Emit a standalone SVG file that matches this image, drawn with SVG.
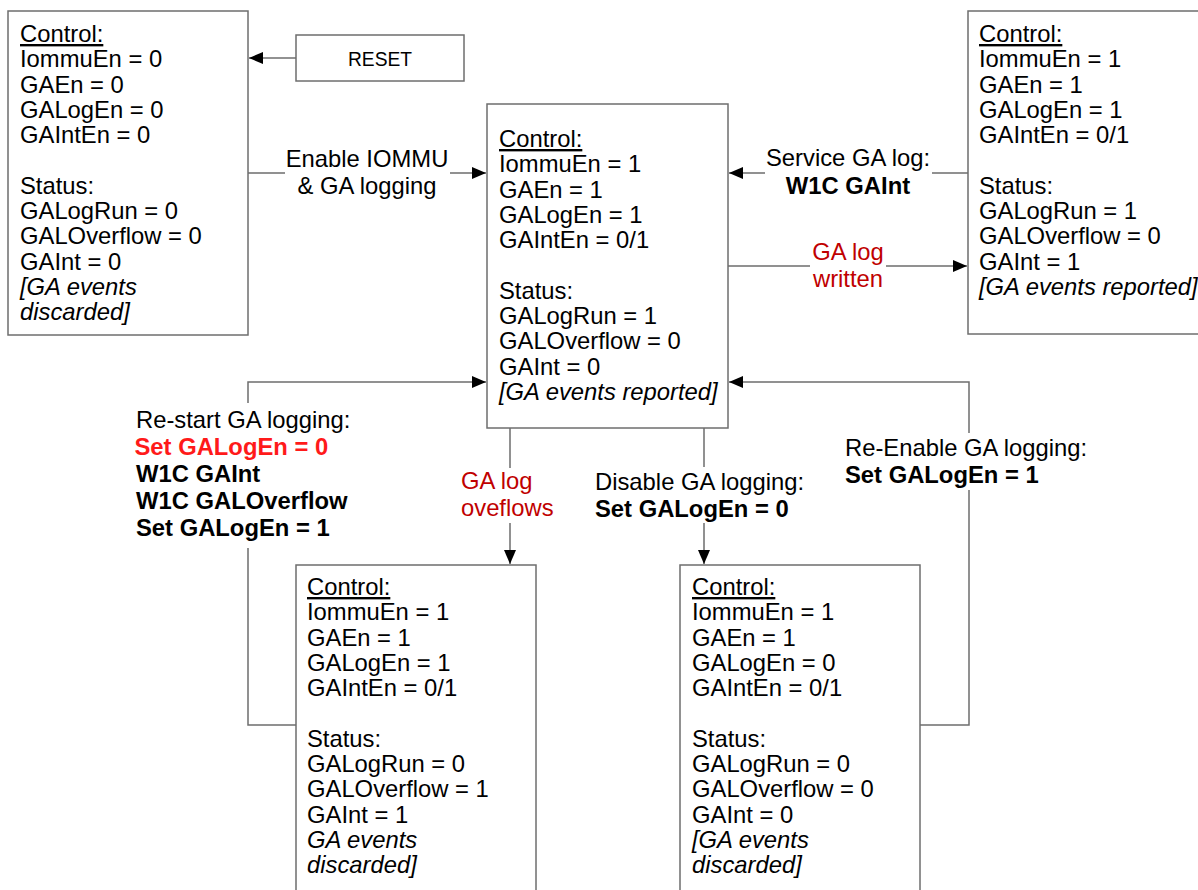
<svg xmlns="http://www.w3.org/2000/svg" width="1198" height="890" viewBox="0 0 1198 890">
<style>
.box{fill:#fff;stroke:#6e6e6e;stroke-width:1.5}
.ln{fill:none;stroke:#6e6e6e;stroke-width:1.5}
.t{font-family:"Liberation Sans",Arial,sans-serif;font-size:23.8px;fill:#000}
.b{font-weight:bold}
.i{font-style:italic}
.u{text-decoration:underline}
.dr{fill:#c00000}
.br{fill:#ff1a1a;font-weight:bold}
.m{text-anchor:middle}
.rs{font-family:"Liberation Sans",Arial,sans-serif;font-size:21px;text-anchor:middle;fill:#000}
</style>
<defs>
<marker id="ah" markerUnits="userSpaceOnUse" markerWidth="14" markerHeight="12" refX="14" refY="6" orient="auto">
<path d="M0,0 L14,6 L0,12 z" fill="#000"/>
</marker>
</defs>
<rect width="1198" height="890" fill="#fff"/>

<g id="connectors">
<path class="ln" d="M296,58 H249" marker-end="url(#ah)"/>
<path class="ln" d="M248,173 H285 M450,173 H486" marker-end="url(#ah)"/>
<path class="ln" d="M968,173 H932 M765,173 H729" marker-end="url(#ah)"/>
<path class="ln" d="M728,266 H810 M886,266 H967" marker-end="url(#ah)"/>
<path class="ln" d="M296,725 H248 V548 M248,403 V382 H486" marker-end="url(#ah)"/>
<path class="ln" d="M510,428 V468 M510,523 V564" marker-end="url(#ah)"/>
<path class="ln" d="M704,428 V467 M704,523 V564" marker-end="url(#ah)"/>
<path class="ln" d="M920,725 H969 V490 M969,433 V382 H729" marker-end="url(#ah)"/>
<text class="t m" x="367" y="167">Enable IOMMU</text>
<text class="t m" x="367" y="194">&amp; GA logging</text>
<text class="t m" x="848" y="166">Service GA log:</text>
<text class="t m b" x="848" y="194">W1C GAInt</text>
<text class="t m dr" x="848" y="260">GA log</text>
<text class="t m dr" x="848" y="287">written</text>
<text class="t" x="136" y="427.5">Re-start GA logging:</text>
<text class="t br" x="134.5" y="454.5">Set GALogEn = 0</text>
<text class="t b" x="136" y="481.5">W1C GAInt</text>
<text class="t b" x="136" y="508.5">W1C GALOverflow</text>
<text class="t b" x="136" y="535.5">Set GALogEn = 1</text>
<text class="t dr" x="461" y="489">GA log</text>
<text class="t dr" x="461" y="516">oveflows</text>
<text class="t" x="595" y="490">Disable GA logging:</text>
<text class="t b" x="595" y="517">Set GALogEn = 0</text>
<text class="t" x="845" y="456">Re-Enable GA logging:</text>
<text class="t b" x="845" y="483">Set GALogEn = 1</text>
</g>

<g id="reset">
<rect class="box" x="296" y="35" width="168" height="46"/>
<text class="rs" x="380" y="65.5" textLength="64" lengthAdjust="spacingAndGlyphs">RESET</text>
</g>

<g id="state-reset">
<rect class="box" x="8" y="11" width="240" height="324"/>
<text class="t" x="20" y="42">
<tspan class="u" x="20">Control:</tspan>
<tspan x="20" dy="25.3">IommuEn = 0</tspan>
<tspan x="20" dy="25.3">GAEn = 0</tspan>
<tspan x="20" dy="25.3">GALogEn = 0</tspan>
<tspan x="20" dy="25.3">GAIntEn = 0</tspan>
<tspan x="20" dy="50.6">Status:</tspan>
<tspan x="20" dy="25.3">GALogRun = 0</tspan>
<tspan x="20" dy="25.3">GALOverflow = 0</tspan>
<tspan x="20" dy="25.3">GAInt = 0</tspan>
<tspan class="i" x="20" dy="25.3">[GA events</tspan>
<tspan class="i" x="20" dy="25.3">discarded]</tspan>
</text>
</g>

<g id="state-running">
<rect class="box" x="487" y="104" width="241" height="324"/>
<text class="t" x="499" y="147">
<tspan class="u" x="499">Control:</tspan>
<tspan x="499" dy="25.3">IommuEn = 1</tspan>
<tspan x="499" dy="25.3">GAEn = 1</tspan>
<tspan x="499" dy="25.3">GALogEn = 1</tspan>
<tspan x="499" dy="25.3">GAIntEn = 0/1</tspan>
<tspan x="499" dy="50.6">Status:</tspan>
<tspan x="499" dy="25.3">GALogRun = 1</tspan>
<tspan x="499" dy="25.3">GALOverflow = 0</tspan>
<tspan x="499" dy="25.3">GAInt = 0</tspan>
<tspan class="i" x="499" dy="25.3">[GA events reported]</tspan>
</text>
</g>

<g id="state-interrupt">
<rect class="box" x="968" y="11" width="250" height="323"/>
<text class="t" x="979" y="42">
<tspan class="u" x="979">Control:</tspan>
<tspan x="979" dy="25.3">IommuEn = 1</tspan>
<tspan x="979" dy="25.3">GAEn = 1</tspan>
<tspan x="979" dy="25.3">GALogEn = 1</tspan>
<tspan x="979" dy="25.3">GAIntEn = 0/1</tspan>
<tspan x="979" dy="50.6">Status:</tspan>
<tspan x="979" dy="25.3">GALogRun = 1</tspan>
<tspan x="979" dy="25.3">GALOverflow = 0</tspan>
<tspan x="979" dy="25.3">GAInt = 1</tspan>
<tspan class="i" x="979" dy="25.3">[GA events reported]</tspan>
</text>
</g>

<g id="state-overflow">
<rect class="box" x="296" y="565" width="240" height="340"/>
<text class="t" x="307" y="595">
<tspan class="u" x="307">Control:</tspan>
<tspan x="307" dy="25.3">IommuEn = 1</tspan>
<tspan x="307" dy="25.3">GAEn = 1</tspan>
<tspan x="307" dy="25.3">GALogEn = 1</tspan>
<tspan x="307" dy="25.3">GAIntEn = 0/1</tspan>
<tspan x="307" dy="50.6">Status:</tspan>
<tspan x="307" dy="25.3">GALogRun = 0</tspan>
<tspan x="307" dy="25.3">GALOverflow = 1</tspan>
<tspan x="307" dy="25.3">GAInt = 1</tspan>
<tspan class="i" x="307" dy="25.3">GA events</tspan>
<tspan class="i" x="307" dy="25.3">discarded]</tspan>
</text>
</g>

<g id="state-disabled">
<rect class="box" x="680" y="565" width="240" height="340"/>
<text class="t" x="692" y="595">
<tspan class="u" x="692">Control:</tspan>
<tspan x="692" dy="25.3">IommuEn = 1</tspan>
<tspan x="692" dy="25.3">GAEn = 1</tspan>
<tspan x="692" dy="25.3">GALogEn = 0</tspan>
<tspan x="692" dy="25.3">GAIntEn = 0/1</tspan>
<tspan x="692" dy="50.6">Status:</tspan>
<tspan x="692" dy="25.3">GALogRun = 0</tspan>
<tspan x="692" dy="25.3">GALOverflow = 0</tspan>
<tspan x="692" dy="25.3">GAInt = 0</tspan>
<tspan class="i" x="692" dy="25.3">[GA events</tspan>
<tspan class="i" x="692" dy="25.3">discarded]</tspan>
</text>
</g>
</svg>
